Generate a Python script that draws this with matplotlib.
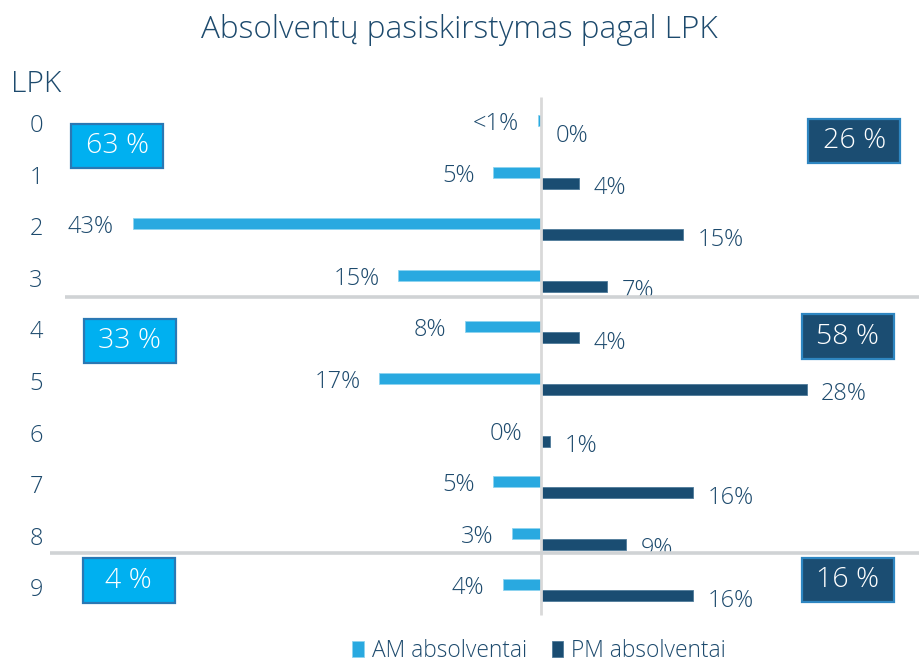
import matplotlib
matplotlib.use("Agg")
import matplotlib.pyplot as plt
from matplotlib.patches import Rectangle
from matplotlib.transforms import Bbox, TransformedBbox

plt.rcParams["font.family"] = ["Open Sans", "DejaVu Sans"]
plt.rcParams["font.weight"] = "light"

# --- data -------------------------------------------------------------
title = "Absolventų pasiskirstymas pagal LPK"
axis_name = "LPK"
lpk_levels = [0, 1, 2, 3, 4, 5, 6, 7, 8, 9]
am_share = [0.3, 5, 43, 15, 8, 17, 0, 5, 3, 4]     # AM absolventai, %
pm_share = [0, 4, 15, 7, 4, 28, 1, 16, 9, 16]      # PM absolventai, %
series_names = ["AM absolventai", "PM absolventai"]
level_groups = [(0, 3), (4, 8), (9, 9)]            # LPK ranges summed in the boxes

# --- style ------------------------------------------------------------
AM_COLOR = "#29A9E0"
PM_COLOR = "#1A4D72"
AM_BOX = "#00B0F0"
AM_BOX_EDGE = "#2A78B4"
PM_BOX = "#1B4D72"
PM_BOX_EDGE = "#2E86C1"
TEXT = "#1D4A6D"
GRID = "#D0D3D5"
AXIS = "#D9D9D9"

BAR_H = 0.213
OFF = 0.107

fig = plt.figure(figsize=(9.2, 6.68), dpi=100)
ax = fig.add_axes([0, 0, 1, 1])
ax.set_xlim(-56.95, 39.9)
ax.set_ylim(10.504, -2.442)
ax.axis("off")

am_bars = ax.barh([r - OFF for r in lpk_levels], [-v for v in am_share], height=BAR_H,
                  color=AM_COLOR, edgecolor="#8ED3F0", linewidth=0.6, zorder=3)
pm_bars = ax.barh([r + OFF for r in lpk_levels], pm_share, height=BAR_H,
                  color=PM_COLOR, edgecolor="#4F7A9A", linewidth=0.6, zorder=3)

# centre axis line
ax.plot([0, 0], [-0.56, 9.48], color=AXIS, lw=2, zorder=4, solid_capstyle="butt")

# group separators
separators = [(3.31, -50.1), (8.28, -51.7)]
for y, x0 in separators:
    ax.plot([x0, 39.9], [y, y], color=GRID, lw=2.6, zorder=6, solid_capstyle="butt")

# clipping regions for each group of rows
group_bounds = [(-2.44, 3.29), (3.33, 8.26), (8.30, 10.5)]


def group_clip(row):
    for (lo, hi), (top, bottom) in zip(level_groups, group_bounds):
        if lo <= row <= hi:
            return TransformedBbox(Bbox.from_extents(-60, top, 45, bottom), ax.transData)


def pct_label(v):
    if 0 < v < 1:
        return "<1%"
    return f"{v:.0f}%"


for r, a, p in zip(lpk_levels, am_share, pm_share):
    clip = group_clip(r)
    t1 = ax.text(-a - 2.0, r - 0.04, pct_label(a), ha="right", va="center",
                 fontsize=17, color=TEXT, zorder=5)
    t2 = ax.text(p + 1.5, r + 0.2, pct_label(p), ha="left", va="center",
                 fontsize=17, color=TEXT, zorder=5)
    for t in (t1, t2):
        t.set_clip_box(clip)
        t.set_clip_on(True)
    ax.text(-53.16, r, str(r), ha="center", va="center", fontsize=17, color=TEXT)

ax.text(-53.1, -0.80, axis_name, ha="center", va="center", fontsize=21.5, color=TEXT)

# group totals in boxes
am_box_pos = [(-44.6, 0.39), (-43.3, 4.17), (-43.4, 8.81)]
pm_box_pos = [(33.0, 0.29), (32.3, 4.08), (32.3, 8.80)]
BOX_W, BOX_H = 9.68, 0.86
for (lo, hi), (ax_x, ax_y), (px, py) in zip(level_groups, am_box_pos, pm_box_pos):
    am_tot = round(sum(am_share[lo:hi + 1]))
    pm_tot = round(sum(pm_share[lo:hi + 1]))
    for (cx, cy), tot, fc, ec in (((ax_x, ax_y), am_tot, AM_BOX, AM_BOX_EDGE),
                                  ((px, py), pm_tot, PM_BOX, PM_BOX_EDGE)):
        ax.add_patch(Rectangle((cx - BOX_W / 2, cy - BOX_H / 2), BOX_W, BOX_H,
                               facecolor=fc, edgecolor=ec, lw=1.6, zorder=7))
        ax.text(cx, cy, f"{tot} %", ha="center", va="center", fontsize=20.5,
                color="white", zorder=8)

fig.text(0.499, 0.955, title, ha="center", va="center", fontsize=22.7, color=TEXT)

ax.legend([am_bars, pm_bars], series_names, loc="center", bbox_to_anchor=(0.586, 0.026),
          ncol=2, frameon=False, fontsize=16.4, handlelength=0.5, handleheight=0.7,
          handletextpad=0.35, columnspacing=1.1, labelcolor=TEXT, borderpad=0)

fig.savefig("out.png", dpi=100, facecolor="white")
